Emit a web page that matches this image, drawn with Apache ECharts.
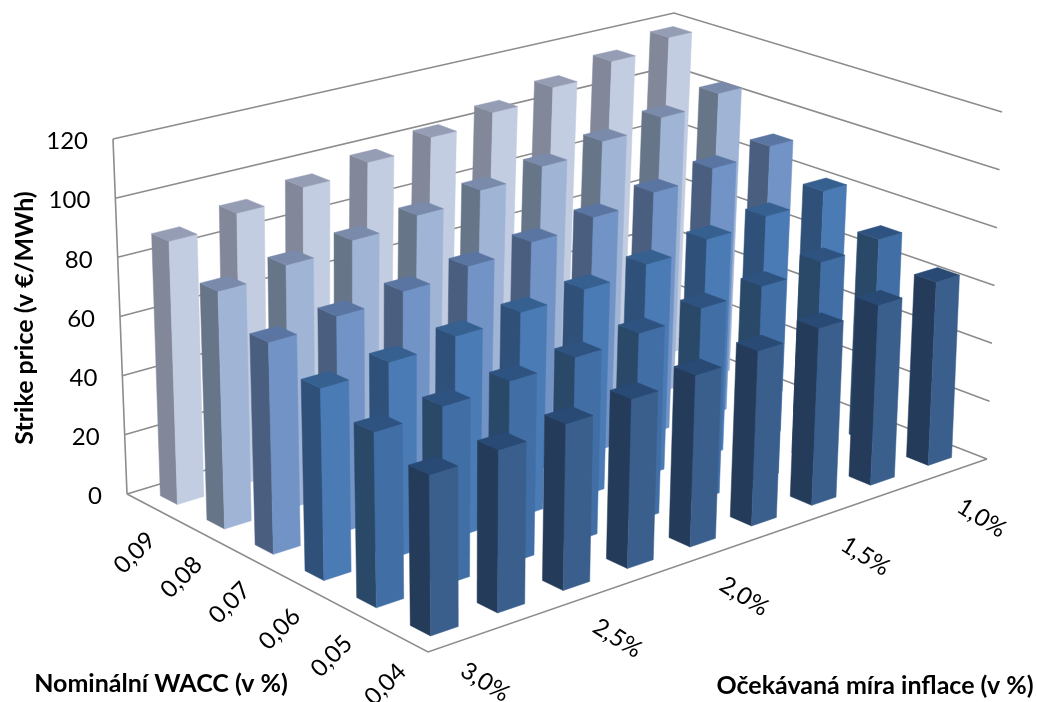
<!DOCTYPE html>
<html><head><meta charset="utf-8"><style>html,body{margin:0;background:#fff}#c{width:1037px;height:702px}</style>
<script src="https://cdn.jsdelivr.net/npm/echarts@6/dist/echarts.min.js"></script></head><body><div id="c"></div>
<script>
// Categories and tick labels
const waccLabels = ['0,09', '0,08', '0,07', '0,06', '0,05', '0,04'];
const inflationLabels = ['3,0%', '2,75%', '2,5%', '2,25%', '2,0%', '1,75%', '1,5%', '1,25%', '1,0%'];
const priceTicks = [0, 20, 40, 60, 80, 100, 120];

// Strike price per WACC, ordered by inflation from 3,0% to 1,0%
const wacc09 = [88.5, 92.3, 95.6, 98.8, 102.2, 105.8, 109.7, 114.2, 118.1];
const wacc08 = [78.9, 81.7, 84.3, 87.1, 90.2, 93.1, 96.6, 99.9, 103.5];
const wacc07 = [69.5, 71.9, 74.2, 76.7, 79.1, 82.0, 85.1, 88.1, 90.6];
const wacc06 = [62.2, 64.3, 66.6, 68.4, 70.1, 72.7, 75.5, 77.8, 81.1];
const wacc05 = [56.1, 57.8, 59.5, 61.0, 62.7, 65.0, 66.4, 68.8, 70.9];
const wacc04 = [50.7, 51.8, 53.5, 55.0, 56.4, 58.1, 59.5, 61.2, 63.1];
const strikeRows = [wacc09, wacc08, wacc07, wacc06, wacc05, wacc04];

const titleWacc = 'Nominální WACC (v %)';
const titleInflation = 'Očekávaná míra inflace (v %)';
const titlePrice = 'Strike price (v €/MWh)';

// Face colours per row: left side, right side, top
const rowColors = [
  ['#82889a', '#c2cde1', '#959db5'],
  ['#677589', '#a0b5d6', '#7a8aab'],
  ['#4a5f80', '#7293c5', '#5b75a2'],
  ['#2f5078', '#4a7bb5', '#36608f'],
  ['#2a4868', '#416fa5', '#2f5380'],
  ['#243b59', '#3a5f8d', '#294a75']
];

// Perspective map from the unit square onto a quadrilateral
function squareToQuad(q) {
  const [p0, p1, p2, p3] = q;
  const dx1 = p1[0] - p2[0], dx2 = p3[0] - p2[0], sx = p0[0] - p1[0] + p2[0] - p3[0];
  const dy1 = p1[1] - p2[1], dy2 = p3[1] - p2[1], sy = p0[1] - p1[1] + p2[1] - p3[1];
  const det = dx1 * dy2 - dx2 * dy1;
  const g = (sx * dy2 - dx2 * sy) / det, h = (dx1 * sy - sx * dy1) / det;
  const a = p1[0] - p0[0] + g * p1[0], b = p3[0] - p0[0] + h * p3[0];
  const d = p1[1] - p0[1] + g * p1[1], e = p3[1] - p0[1] + h * p3[1];
  return (u, v) => {
    const w = g * u + h * v + 1;
    return [(a * u + b * v + p0[0]) / w, (d * u + e * v + p0[1]) / w];
  };
}

// The chart box: floor plane and the plane of the top gridline
const floorPlane = squareToQuad([[127, 494], [428, 652], [987, 459], [660, 332]]);
const topPlane = squareToQuad([[113, 139], [424, 268], [1002, 112], [674, 13]]);
const heightOf = v => echarts.number.linearMap(v, [0, 120], [0, 1]);
function project(u, v, value) {
  const a = floorPlane(u, v), b = topPlane(u, v), t = heightOf(value);
  return [a[0] + (b[0] - a[0]) * t, a[1] + (b[1] - a[1]) * t];
}

const halfU = 0.37 / 2, halfV = 0.41 / 2;

// Walls, floor outline and value axis
const frameSeries = {
  type: 'custom', coordinateSystem: 'none', data: [0], silent: true,
  renderItem() {
    const lines = [];
    const line = pts => lines.push({ type: 'polyline', shape: { points: pts }, style: { stroke: '#8c8c8c', lineWidth: 1.6, fill: null } });
    priceTicks.forEach(h => line([project(0, 0, h), project(0, 1, h), project(1, 1, h)]));
    line([project(0, 0, 0), project(1, 0, 0), project(1, 1, 0)]);
    line([project(0, 0, 0), project(0, 0, 120)]);
    return { type: 'group', children: lines };
  }
};

// One series per WACC row, back row first; bars run from the far end forward
const barSeries = strikeRows.map((row, rowIndex) => ({
  type: 'custom',
  name: waccLabels[rowIndex],
  silent: true,
  encode: { x: 0, y: 1 },
  data: row.map((value, col) => [rowIndex, col, value]).reverse(),
  renderItem(params, api) {
    const sys = params.coordSys;
    const centre = api.coord([api.value(0), api.value(1)]);
    const band = api.size([1, 1]);
    const value = api.value(2);
    const cu = (centre[0] - sys.x) / sys.width;
    const cv = (sys.y + sys.height - centre[1]) / sys.height;
    const hu = halfU * band[0] / sys.width, hv = halfV * band[1] / sys.height;
    const colors = rowColors[api.value(0)];
    const A = [cu - hu, cv - hv], B = [cu + hu, cv - hv], C = [cu + hu, cv + hv], D = [cu - hu, cv + hv];
    const at = (q, h) => project(q[0], q[1], h);
    const face = (pts, fill) => ({ type: 'polygon', shape: { points: pts }, style: { fill, stroke: fill, lineWidth: 0.5 } });
    return {
      type: 'group',
      children: [
        face([at(A, 0), at(B, 0), at(B, value), at(A, value)], colors[0]),
        face([at(B, 0), at(C, 0), at(C, value), at(B, value)], colors[1]),
        face([at(A, value), at(B, value), at(C, value), at(D, value)], colors[2])
      ]
    };
  }
}));

// Tick labels and axis titles
const labelSeries = {
  type: 'custom', coordinateSystem: 'none', data: [0], silent: true,
  renderItem() {
    const texts = [];
    const text = (s, x, y, rotation, align, size, weight) => texts.push({
      type: 'text', x, y, rotation,
      style: { text: s, x: 0, y: 0, align, verticalAlign: 'middle', fill: '#000', font: weight + ' ' + size + 'px Lato' }
    });
    priceTicks.forEach(h => {
      const q = project(0, 0, h);
      text(String(h), q[0] - 25, q[1] + 2.5, 0, 'right', 24, 'normal');
    });
    waccLabels.forEach((s, i) => {
      const q = project((i + 0.5) / 6, 0, 0);
      text(s, q[0] - 15, q[1] + 47, Math.PI / 4, 'center', 24, 'normal');
    });
    inflationLabels.forEach((s, j) => {
      if (j % 2) return;
      const v = (j + 0.5) / 9, q = project(1, v, 0);
      text(s, q[0] + 23, q[1] + 41.4 + 8.3 * v, -Math.PI * 32 / 180, 'center', 24, 'normal');
    });
    text(titleWacc, 161, 684, 0, 'center', 25, 'bold');
    text(titleInflation, 875, 686, 0, 'center', 25, 'bold');
    text(titlePrice, 25, 318, Math.PI / 2, 'center', 25, 'bold');
    return { type: 'group', children: texts };
  }
};

const chart = echarts.init(document.getElementById('c'));
chart.setOption({
  animation: false,
  grid: { left: 100, top: 100, width: 800, height: 500 },
  xAxis: { type: 'category', show: false, data: waccLabels },
  yAxis: { type: 'category', show: false, data: inflationLabels },
  series: [frameSeries, ...barSeries, labelSeries]
});
</script></body></html>
